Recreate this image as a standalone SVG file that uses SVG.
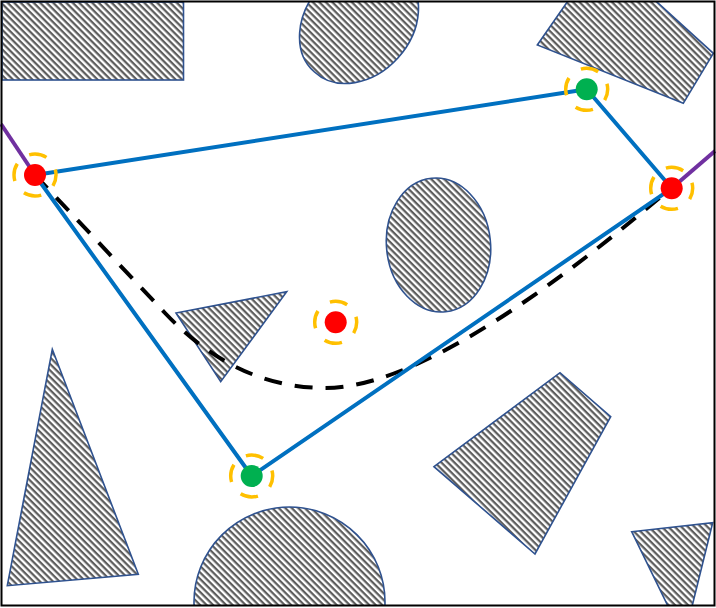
<svg xmlns="http://www.w3.org/2000/svg" width="716" height="608" viewBox="0 0 716 608">
  <style>
    .obs { fill: url(#hatch); stroke: #2F528F; stroke-width: 1.6; }
    .edge { fill: none; stroke: #0070C0; stroke-width: 4; stroke-linecap: round; }
    .ext { fill: none; stroke: #7030A0; stroke-width: 4; }
    .curve { fill: none; stroke: #000; stroke-width: 4; stroke-dasharray: 18 13; }
    .ring { fill: none; stroke: #FFC000; stroke-width: 3.5; stroke-dasharray: 18 15; stroke-dashoffset: 6.6; }
    .red { fill: #FF0000; }
    .green { fill: #00B050; }
  </style>
  <defs>
    <pattern id="hatch" patternUnits="userSpaceOnUse" width="4.6" height="4.6" patternTransform="rotate(45)">
      <rect width="4.6" height="4.6" fill="#fff"/>
      <line x1="0" y1="1.15" x2="4.6" y2="1.15" stroke="#595959" stroke-width="2.2"/>
    </pattern>
    <clipPath id="frame">
      <rect x="2" y="2" width="712" height="603"/>
    </clipPath>
  </defs>
  <rect x="0" y="0" width="716" height="608" fill="#fff"/>
  <g id="obstacles" clip-path="url(#frame)">
    <rect id="obs-rect-tl" class="obs" x="2" y="2" width="181.5" height="78"/>
    <path id="obs-ellipse-top" class="obs" d="M403.56,-26.99 A66.6 52 -48 1 1 314.44,71.99 A66.6 52 -48 1 1 403.56,-26.99 Z"/>
    <polygon id="obs-quad-tr" class="obs" points="537.3,45 602,-48 713.3,53.3 683.3,103.3"/>
    <path id="obs-ellipse-mid" class="obs" d="M490.22,239.56 A52 67 -6 1 1 386.78,250.44 A52 67 -6 1 1 490.22,239.56 Z"/>
    <polygon id="obs-tri-mid" class="obs" points="176,313 286.7,291.7 220.7,381.7"/>
    <polygon id="obs-tri-left" class="obs" points="52.3,349.3 138.3,574.3 7.3,585.7"/>
    <ellipse id="obs-semicircle" class="obs" cx="289.5" cy="602" rx="95.5" ry="95"/>
    <polygon id="obs-quad-br" class="obs" points="434,466.7 560,372.7 610.7,416.7 535,554"/>
    <polygon id="obs-tri-br" class="obs" points="631.7,531.7 712.7,522.7 684,639"/>
  </g>
  <g id="connectors">
    <path id="path-smooth" class="curve" d="M35,175 L165,313 C215,366 270,388 325,388 C410,388 540,300 671,188"/>
    <line class="edge" x1="35" y1="175" x2="586.7" y2="89.3"/>
    <line class="edge" x1="586.7" y1="89.3" x2="671.7" y2="188.3"/>
    <line class="edge" x1="35" y1="175" x2="251.7" y2="476"/>
    <line class="edge" x1="251.7" y1="476" x2="671.7" y2="188.3"/>
    <line class="ext" x1="1" y1="124" x2="35" y2="175"/>
    <line class="ext" x1="671.7" y1="188.3" x2="715" y2="151"/>
  </g>
  <g id="node-start">
    <circle class="ring" cx="35" cy="175" r="21"/>
    <circle class="red" cx="35" cy="175" r="11"/>
  </g>
  <g id="node-wp1">
    <circle class="ring" cx="586.7" cy="89.3" r="21"/>
    <circle class="green" cx="586.7" cy="89.3" r="11"/>
  </g>
  <g id="node-goal">
    <circle class="ring" cx="671.7" cy="188.3" r="21"/>
    <circle class="red" cx="671.7" cy="188.3" r="11"/>
  </g>
  <g id="node-wp2">
    <circle class="ring" cx="251.7" cy="476" r="21"/>
    <circle class="green" cx="251.7" cy="476" r="11"/>
  </g>
  <g id="node-center">
    <circle class="ring" cx="335.7" cy="322.3" r="21"/>
    <circle class="red" cx="335.7" cy="322.3" r="11"/>
  </g>
  <rect id="frame-border" x="1.5" y="1.5" width="713" height="604" fill="none" stroke="#000" stroke-width="2"/>
</svg>
